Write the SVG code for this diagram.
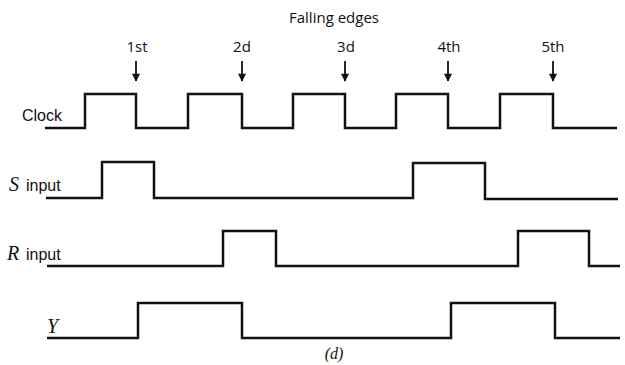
<svg xmlns="http://www.w3.org/2000/svg" width="625" height="365" viewBox="0 0 625 365">
<defs>
<marker id="ah" viewBox="0 0 10 10" refX="9" refY="5" markerWidth="11" markerHeight="8" markerUnits="userSpaceOnUse" orient="auto">
<path d="M0,0 L10,5 L0,10 z" fill="#111"/>
</marker>
</defs>
<style>
.w{fill:none;stroke:#111;stroke-width:2.5;stroke-linejoin:miter}
.a{stroke:#111;stroke-width:1.8;marker-end:url(#ah)}
.s{font-family:"Open Sans","DejaVu Sans",sans-serif;font-size:15px;fill:#111}
.lbl{font-family:"Liberation Sans",Arial,sans-serif;font-size:16px;fill:#111}
.it{font-family:"Liberation Serif","Times New Roman",serif;font-style:italic;font-size:20px;fill:#111}
</style>
<rect width="625" height="365" fill="#fff"/>
<g id="title"><text class="s" x="334" y="23" text-anchor="middle">Falling edges</text></g>
<g id="edge-labels">
<text class="s" x="137" y="52" text-anchor="middle">1st</text>
<text class="s" x="242" y="52" text-anchor="middle">2d</text>
<text class="s" x="346" y="52" text-anchor="middle">3d</text>
<text class="s" x="449" y="52" text-anchor="middle">4th</text>
<text class="s" x="553" y="52" text-anchor="middle">5th</text>
</g>
<g id="connectors">
<line class="a" x1="136" y1="61" x2="136" y2="81"/>
<line class="a" x1="242" y1="61" x2="242" y2="81"/>
<line class="a" x1="345" y1="61" x2="345" y2="81"/>
<line class="a" x1="448" y1="61" x2="448" y2="81"/>
<line class="a" x1="553" y1="61" x2="553" y2="81"/>
</g>
<g id="clock">
<text class="lbl" x="22" y="121">Clock</text>
<path class="w" d="M45,128 H85 V94 H136 V128 H188 V94 H242 V128 H293 V94 H345 V128 H396 V94 H448 V128 H500 V94 H553 V128 H617"/>
</g>
<g id="s-input">
<text class="it" x="9" y="191">S</text>
<text class="lbl" x="26" y="191">input</text>
<path class="w" d="M46,198 H102 V162 H154 V198 H413 V163 H485 V199 H618"/>
</g>
<g id="r-input">
<text class="it" x="7" y="260">R</text>
<text class="lbl" x="26" y="260">input</text>
<path class="w" d="M47,266 H223 V231 H276 V266 H518 V231 H589 V266 H620"/>
</g>
<g id="y-output">
<text class="it" x="47" y="333">Y</text>
<path class="w" d="M47,338 H138 V303 H242 V338 H451 V303 H555 V338 H620"/>
</g>
<g id="caption"><text class="it" x="334" y="359" text-anchor="middle" style="font-size:16px">(d)</text></g>
</svg>
